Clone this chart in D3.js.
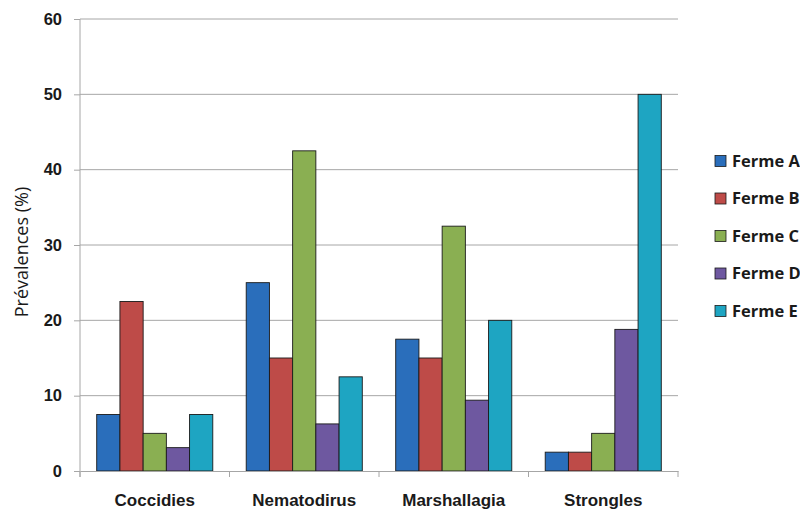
<!DOCTYPE html>
<html>
<head>
<meta charset="utf-8">
<script src="https://cdn.jsdelivr.net/npm/d3@7"></script>
<style>
  body { margin: 0; background: #fff; }
  svg { display: block; font-family: "Open Sans", "Noto Sans", sans-serif; }
</style>
</head>
<body>
<svg id="chart" width="800" height="510"></svg>
<script>
// Parasites and farms
const categories = ["Coccidies", "Nematodirus", "Marshallagia", "Strongles"];
const farms = ["Ferme A", "Ferme B", "Ferme C", "Ferme D", "Ferme E"];
const fermeA = [7.5, 25, 17.5, 2.5];
const fermeB = [22.5, 15, 15, 2.5];
const fermeC = [5, 42.5, 32.5, 5];
const fermeD = [3.1, 6.25, 9.4, 18.8];
const fermeE = [7.5, 12.5, 20, 50];
const yTicks = [0, 10, 20, 30, 40, 50, 60];
const colors = ["#2A6EBB", "#BE4B48", "#8AAF52", "#6E58A0", "#1EA5C2"];

const series = [fermeA, fermeB, fermeC, fermeD, fermeE];

const svg = d3.select("#chart");
const margin = { left: 80, right: 122, top: 19, bottom: 39 };
const W = 800, H = 510;

const x0 = d3.scaleBand().domain(categories)
  .range([margin.left, W - margin.right]).paddingInner(0).paddingOuter(0);
const x1 = d3.scaleBand().domain(farms)
  .range([0, x0.bandwidth()]).paddingOuter(0.72).paddingInner(0);
const y = d3.scaleLinear().domain([0, 60]).range([H - margin.bottom, margin.top]);

// Gridlines
svg.append("g").selectAll("line").data(yTicks.slice(1)).join("line")
  .attr("x1", margin.left).attr("x2", W - margin.right)
  .attr("y1", d => y(d)).attr("y2", d => y(d))
  .attr("stroke", "#A6A6A6").attr("stroke-width", 1);

// Bars
const groups = svg.append("g").selectAll("g").data(categories).join("g")
  .attr("transform", d => `translate(${x0(d)},0)`);
groups.selectAll("rect")
  .data((c, i) => farms.map((f, j) => ({ farm: f, value: series[j][i], color: colors[j] })))
  .join("rect")
  .attr("x", d => x1(d.farm))
  .attr("width", x1.bandwidth())
  .attr("y", d => y(d.value))
  .attr("height", d => y(0) - y(d.value))
  .attr("fill", d => d.color)
  .attr("stroke", "#1a1a1a").attr("stroke-width", 0.9);

// Y axis
const yAxis = d3.axisLeft(y).tickValues(yTicks).tickSize(6).tickPadding(12);
const gy = svg.append("g").attr("transform", `translate(${margin.left},0)`).call(yAxis);
gy.select(".domain").attr("stroke", "#A6A6A6").attr("d", `M-0,${y(60)}V${y(0) + 6}`);
gy.selectAll(".tick line").attr("stroke", "#A6A6A6");
gy.selectAll(".tick text").attr("fill", "#1a1a1a")
  .style("font-size", "16.5px").style("font-weight", "bold");

// X axis
const xAxis = d3.axisBottom(x0).tickSize(0).tickPadding(23);
const gx = svg.append("g").attr("transform", `translate(0,${y(0)})`).call(xAxis);
gx.select(".domain").attr("stroke", "#A6A6A6");
gx.selectAll(".tick text").attr("fill", "#1a1a1a")
  .style("font-size", "17px").style("font-weight", "bold");
// Category boundary ticks
svg.append("g").selectAll("line")
  .data(categories.map(c => x0(c)).concat([x0.range()[1]]))
  .join("line")
  .attr("x1", d => d).attr("x2", d => d)
  .attr("y1", y(0)).attr("y2", y(0) + 6)
  .attr("stroke", "#A6A6A6");

// Y title
svg.append("text")
  .attr("transform", `translate(28,252) rotate(-90)`)
  .attr("text-anchor", "middle")
  .attr("fill", "#1a1a1a")
  .style("font-size", "18px")
  .text("Prévalences (%)");

// Legend
const legend = svg.append("g").selectAll("g").data(farms).join("g")
  .attr("transform", (d, i) => `translate(715,${161 + i * 37.5})`);
legend.append("rect")
  .attr("x", 0).attr("y", -5.5).attr("width", 11).attr("height", 11)
  .attr("fill", (d, i) => colors[i]).attr("stroke", "#1a1a1a").attr("stroke-width", 0.8);
legend.append("text")
  .attr("x", 17).attr("y", 0).attr("dy", "0.36em")
  .attr("fill", "#1a1a1a")
  .style("font-size", "16.5px").style("font-weight", "bold")
  .text(d => d);
</script>
</body>
</html>
